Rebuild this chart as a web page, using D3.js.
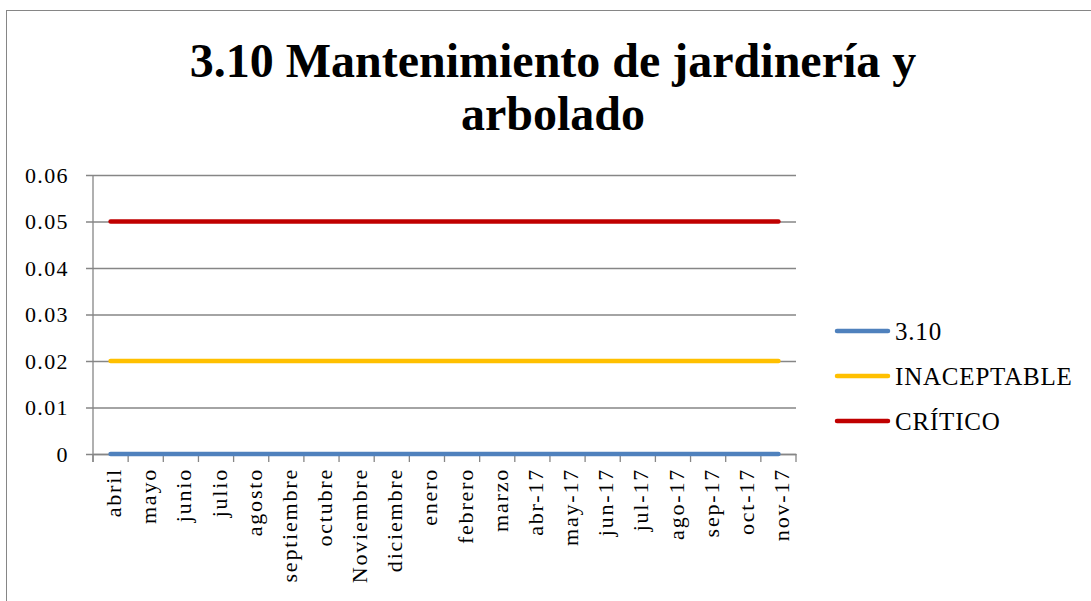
<!DOCTYPE html>
<html>
<head>
<meta charset="utf-8">
<script src="https://cdn.jsdelivr.net/npm/d3@7"></script>
<style>
  html, body { margin: 0; padding: 0; background: #ffffff; }
  svg { display: block; }
  text { font-family: "Liberation Serif", "Times New Roman", serif; fill: #000; }
</style>
</head>
<body>
<svg id="chart" width="1091" height="601"></svg>
<script>
const categories = ["abril", "mayo", "junio", "julio", "agosto", "septiembre", "octubre", "Noviembre", "diciembre", "enero", "febrero", "marzo", "abr-17", "may-17", "jun-17", "jul-17", "ago-17", "sep-17", "oct-17", "nov-17"];
const seriesNames = ["3.10", "INACEPTABLE", "CRÍTICO"];
const values310 = [0, 0, 0, 0, 0, 0, 0, 0, 0, 0, 0, 0, 0, 0, 0, 0, 0, 0, 0, 0];
const valuesInaceptable = [0.02, 0.02, 0.02, 0.02, 0.02, 0.02, 0.02, 0.02, 0.02, 0.02, 0.02, 0.02, 0.02, 0.02, 0.02, 0.02, 0.02, 0.02, 0.02, 0.02];
const valuesCritico = [0.05, 0.05, 0.05, 0.05, 0.05, 0.05, 0.05, 0.05, 0.05, 0.05, 0.05, 0.05, 0.05, 0.05, 0.05, 0.05, 0.05, 0.05, 0.05, 0.05];
const yTicks = [0, 0.01, 0.02, 0.03, 0.04, 0.05, 0.06];
const yTickLabels = ["0", "0.01", "0.02", "0.03", "0.04", "0.05", "0.06"];
const titleLines = ["3.10 Mantenimiento de jardinería y", "arbolado"];
const colors = ["#4F81BD", "#FFC000", "#C00000"];

const series = [values310, valuesInaceptable, valuesCritico].map((vals, i) => ({
  name: seriesNames[i], color: colors[i], values: vals
}));

const svg = d3.select("#chart");
const plot = { left: 93, right: 796, top: 175, bottom: 454 };
const gridColor = "#868686";

// outer chart border (left and top visible)
svg.append("rect")
  .attr("x", 6.5).attr("y", 10.5)
  .attr("width", 1200).attr("height", 1000)
  .attr("fill", "none").attr("stroke", gridColor).attr("stroke-width", 1);

// title
svg.append("g").selectAll("text").data(titleLines).join("text")
  .attr("x", 553)
  .attr("y", (d, i) => 77 + i * 53)
  .attr("text-anchor", "middle")
  .style("font-size", "48px")
  .style("font-weight", "bold")
  .text(d => d);

const x = d3.scaleBand().domain(categories).range([plot.left, plot.right]).paddingInner(0).paddingOuter(0);
const y = d3.scaleLinear().domain([0, 0.06]).range([plot.bottom, plot.top]);

// gridlines + y axis
const yAxis = d3.axisLeft(y)
  .tickValues(yTicks)
  .tickFormat((d, i) => yTickLabels[i])
  .tickSize(-(plot.right - plot.left))
  .tickSizeOuter(0)
  .tickPadding(0);
const yg = svg.append("g").attr("transform", `translate(${plot.left},0)`).call(yAxis);
yg.select(".domain").remove();
yg.selectAll(".tick line")
  .attr("x1", -7)
  .attr("stroke", gridColor).attr("stroke-width", 1.3);
yg.selectAll(".tick text")
  .attr("x", -24)
  .attr("dy", "0.34em")
  .style("font-size", "22px")
  .style("letter-spacing", "1.4px")
  .style("font-family", '"Liberation Serif", "Times New Roman", serif');

// y axis line
svg.append("line")
  .attr("x1", plot.left).attr("x2", plot.left)
  .attr("y1", plot.top).attr("y2", plot.bottom + 8)
  .attr("stroke", gridColor).attr("stroke-width", 1.3);

// x axis
const xAxis = d3.axisBottom(x).tickSize(0).tickSizeOuter(0);
const xg = svg.append("g").attr("transform", `translate(0,${plot.bottom})`).call(xAxis);
xg.select(".domain").attr("stroke", gridColor).attr("stroke-width", 1.3);
xg.selectAll(".tick text")
  .attr("transform", "rotate(-90)")
  .attr("text-anchor", "end")
  .attr("x", -14)
  .attr("y", 0)
  .attr("dy", "0.48em")
  .style("font-size", "22px")
  .style("letter-spacing", "1.8px")
  .style("font-family", '"Liberation Serif", "Times New Roman", serif');

// category boundary ticks
const boundaries = categories.map(c => x(c)).concat([x(categories[categories.length - 1]) + x.bandwidth()]);
svg.append("g").selectAll("line").data(boundaries).join("line")
  .attr("x1", d => d).attr("x2", d => d)
  .attr("y1", plot.bottom).attr("y2", plot.bottom + 8)
  .attr("stroke", gridColor).attr("stroke-width", 1.3);

// lines
const line = d3.line()
  .x((d, i) => x(categories[i]) + x.bandwidth() / 2)
  .y(d => y(d));
svg.append("g").selectAll("path").data(series).join("path")
  .attr("d", d => line(d.values))
  .attr("fill", "none")
  .attr("stroke", d => d.color)
  .attr("stroke-width", 4.5)
  .attr("stroke-linecap", "round")
  .attr("stroke-linejoin", "round");

// legend
const legend = svg.append("g").selectAll("g").data(series).join("g")
  .attr("transform", (d, i) => `translate(0,${331 + i * 45})`);
legend.append("line")
  .attr("x1", 837).attr("x2", 888)
  .attr("y1", 0).attr("y2", 0)
  .attr("stroke", d => d.color)
  .attr("stroke-width", 4.5)
  .attr("stroke-linecap", "round");
legend.append("text")
  .attr("x", 895)
  .attr("y", 9)
  .style("font-size", "25px")
  .style("letter-spacing", "0.8px")
  .text(d => d.name);
</script>
</body>
</html>
